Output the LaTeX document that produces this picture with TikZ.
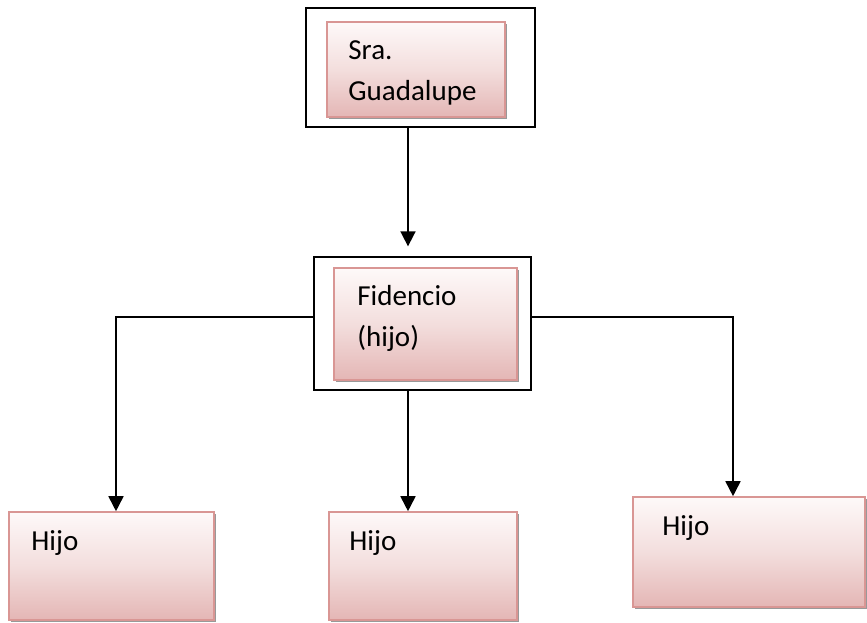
\documentclass[tikz,border=0pt]{standalone}
\usepackage{fontspec}
\setmainfont{Carlito}
\usetikzlibrary{arrows.meta,shadows,positioning}

\definecolor{pkline}{HTML}{D99694}
\definecolor{pktop}{HTML}{FEF9F9}
\definecolor{pkmid}{HTML}{F3DEDD}
\definecolor{pkbot}{HTML}{E4B6B5}

\begin{document}
\begin{tikzpicture}[x=1pt,y=-1pt,
		frame/.style={draw=black,line width=1.3pt,inner sep=0},
		pinkbox/.style={draw=pkline,line width=1.6pt,inner sep=0,
			top color=pktop,bottom color=pkbot,middle color=pkmid,
			drop shadow={shadow xshift=2pt,shadow yshift=-2pt,fill=black!40,opacity=1}},
		lbl/.style={anchor=base west,inner sep=0,align=left,font=\fontsize{29}{41}\selectfont},
		conn/.style={line width=1.7pt,-{Triangle[length=15pt,width=15pt]}}]
		\useasboundingbox (0,0) rectangle (867,623);

		% madre y primer hijo
		\node[frame,minimum width=229,minimum height=119] (topframe) at (420.5,67.5) {};
		\node[pinkbox,minimum width=178,minimum height=95] (guad) at (416,69.5) {};
		% base = ultima linea
		\node[lbl] (guadtxt) at ([shift={(22,79)}]guad.north west) {Sra.\\Guadalupe};

		\node[frame,minimum width=217,minimum height=133] (midframe) at (422.5,323.5) {};
		\node[pinkbox,minimum width=183,minimum height=112] (fid) at (425.5,324) {};
		\node[lbl] (fidtxt) at ([shift={(24,79)}]fid.north west) {Fidencio\\(hijo)};

		% nietos
		\node[pinkbox,minimum width=205,minimum height=108] (hijoL) at (111.5,566) {};
		\node[pinkbox,minimum width=188,minimum height=108] (hijoM) at (423,566) {};
		\node[pinkbox,minimum width=232,minimum height=110] (hijoR) at (749,552) {};
		\node[lbl] (hijoLtxt) at ([shift={(23,39)}]hijoL.north west) {Hijo};
		\node[lbl] (hijoMtxt) at ([shift={(21,39)}]hijoM.north west) {Hijo};
		\node[lbl] (hijoRtxt) at ([shift={(30,39)}]hijoR.north west) {Hijo};

		\coordinate (spine) at (408,0);
		\coordinate (forkL) at (116,317);
		\coordinate (forkR) at (733,317);

		\draw[conn,shorten >=10pt] (topframe.south -| spine) -- (midframe.north -| spine);
		\draw[conn] (midframe.south -| spine) -- (hijoM.north -| spine);
		\draw[conn] (midframe.west |- forkL) -- (forkL) -- (hijoL.north -| forkL);
		\draw[conn] (midframe.east |- forkR) -- (forkR) -- (hijoR.north -| forkR);
\end{tikzpicture}
\end{document}
